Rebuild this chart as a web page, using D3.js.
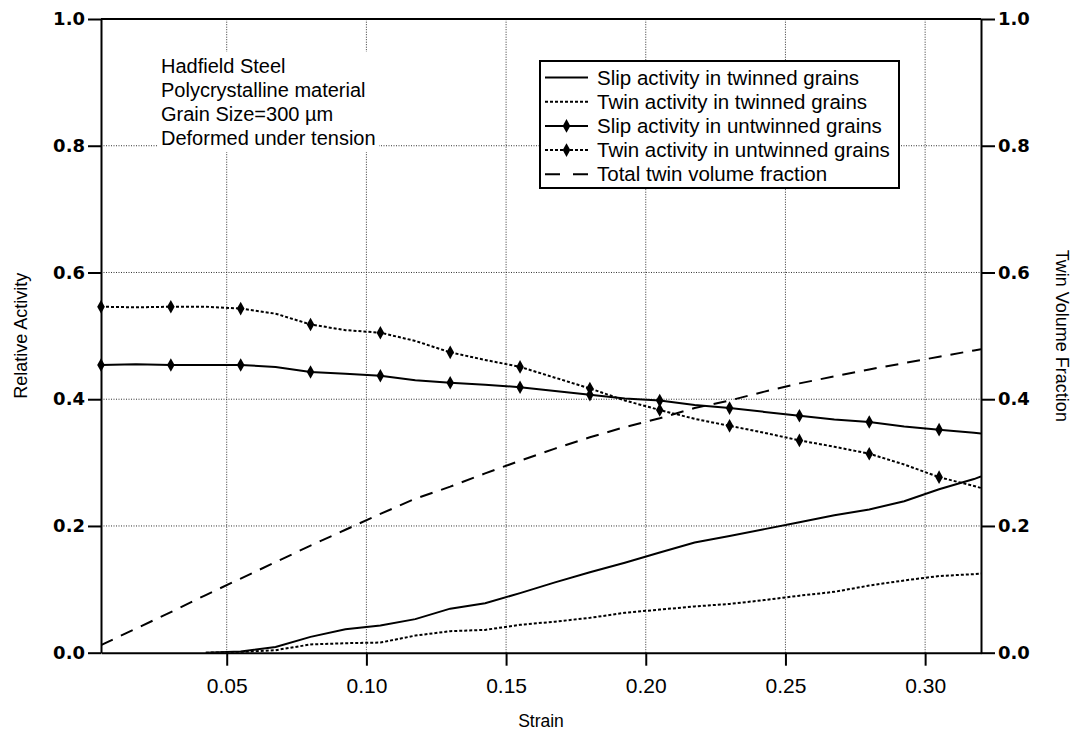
<!DOCTYPE html>
<html><head><meta charset="utf-8">
<script src="https://cdn.jsdelivr.net/npm/d3@7"></script>
<style>body{margin:0;background:#fff}svg{display:block}</style>
</head><body><svg id="c" width="1076" height="734"></svg>
<script>
const strain = [0.005,0.0175,0.03,0.0425,0.055,0.0675,0.08,0.0925,0.105,0.1175,0.13,0.1425,0.155,0.1675,0.18,0.1925,0.205,0.2175,0.23,0.2425,0.255,0.2675,0.28,0.2925,0.305,0.3175,0.32];
const slipUntwinned = [0.454,0.455,0.454,0.454,0.454,0.451,0.443,0.440,0.437,0.430,0.426,0.423,0.419,0.413,0.407,0.401,0.398,0.391,0.386,0.380,0.374,0.368,0.364,0.357,0.352,0.347,0.346];
const twinUntwinned = [0.546,0.545,0.546,0.546,0.543,0.535,0.518,0.509,0.505,0.492,0.474,0.462,0.451,0.434,0.417,0.398,0.383,0.369,0.358,0.347,0.335,0.325,0.314,0.297,0.277,0.263,0.260];
const slipTwinned = [null,null,null,0,0.002,0.009,0.025,0.037,0.043,0.053,0.0695,0.078,0.094,0.111,0.127,0.142,0.158,0.174,0.184,0.195,0.206,0.217,0.226,0.239,0.258,0.274,0.278];
const twinTwinned = [null,null,null,0,0.001,0.004,0.013,0.015,0.016,0.027,0.034,0.036,0.044,0.049,0.055,0.063,0.068,0.073,0.077,0.083,0.090,0.096,0.106,0.114,0.121,0.124,0.125];
const twinVolumeFraction = [0.012,0.038,0.064,0.091,0.117,0.143,0.169,0.194,0.219,0.243,0.262,0.283,0.303,0.322,0.340,0.356,0.370,0.386,0.398,0.412,0.425,0.436,0.447,0.457,0.467,0.477,0.479];
const markerStrain = [0.005,0.03,0.055,0.08,0.105,0.13,0.155,0.18,0.205,0.23,0.255,0.28,0.305];
const xTicks = [0.05,0.10,0.15,0.20,0.25,0.30];
const yTicks = [0.0,0.2,0.4,0.6,0.8,1.0];
const legendLabels = ["Slip activity in twinned grains","Twin activity in twinned grains","Slip activity in untwinned grains","Twin activity in untwinned grains","Total twin volume fraction"];
const annotation = ["Hadfield Steel","Polycrystalline material","Grain Size=300 \u00b5m","Deformed under tension"];

const svg = d3.select("#c");
const L = 101, R = 981, T = 19, B = 652.7;
const x = d3.scaleLinear().domain([0.005, 0.32]).range([L, R]);
const y = d3.scaleLinear().domain([0, 1]).range([B, T]);
const y2 = d3.scaleLinear().domain([0, 1]).range([B, T]);
const sans = "'Liberation Sans', Arial, Helvetica, sans-serif";

// grid
const grid = svg.append("g").attr("stroke", "#333").attr("stroke-width", 1).attr("stroke-dasharray", "1,1.5");
xTicks.forEach(t => grid.append("line").attr("x1", x(t)).attr("x2", x(t)).attr("y1", B).attr("y2", T));
yTicks.filter(t => t > 0 && t < 1).forEach(t => grid.append("line").attr("x1", L).attr("x2", R).attr("y1", y(t)).attr("y2", y(t)));

// series
const styles = [
  {vals: slipTwinned, dash: null, marker: false, legDash: null},
  {vals: twinTwinned, dash: "3,2", marker: false, legDash: "3,2"},
  {vals: slipUntwinned, dash: null, marker: true, legDash: null},
  {vals: twinUntwinned, dash: "3,2", marker: true, legDash: "3,2"},
  {vals: twinVolumeFraction, dash: "13,9", marker: false, legDash: "15,13", right: true}
];
svg.append("clipPath").attr("id", "clip").append("rect").attr("x", L).attr("y", T).attr("width", R - L).attr("height", B - T);
const plot = svg.append("g").attr("clip-path", "url(#clip)");
const diamond = "M0,-6.8L3.8,0L0,6.8L-3.8,0Z";

styles.forEach(s => {
  const ys = s.right ? y2 : y;
  const pts = strain.map((d, i) => [d, s.vals[i]]);
  const line = d3.line().defined(d => d[1] !== null).x(d => x(d[0])).y(d => ys(d[1]));
  plot.append("path").datum(pts).attr("d", line).attr("fill", "none").attr("stroke", "#000")
    .attr("stroke-width", 2).attr("stroke-dasharray", s.dash);
});
styles.filter(s => s.marker).forEach(s => {
  const mp = markerStrain.map(m => {
    const i = strain.findIndex(v => Math.abs(v - m) < 1e-9);
    return [m, s.vals[i]];
  });
  svg.append("g").selectAll("path").data(mp).join("path").attr("d", diamond)
    .attr("transform", d => `translate(${x(d[0])},${y(d[1])})`).attr("fill", "#000");
});

// axes
const fmtY = d3.format(".1f");
const ax = svg.append("g").attr("transform", `translate(${L},0)`)
  .call(d3.axisLeft(y).tickValues(yTicks).tickFormat(fmtY).tickSize(13).tickSizeOuter(0).tickPadding(3));
const axR = svg.append("g").attr("transform", `translate(${R},0)`)
  .call(d3.axisRight(y2).tickValues(yTicks).tickFormat(fmtY).tickSize(14).tickSizeOuter(0).tickPadding(3));
const axB = svg.append("g").attr("transform", `translate(0,${B})`)
  .call(d3.axisBottom(x).tickValues(xTicks).tickFormat(d3.format(".2f")).tickSize(13).tickSizeOuter(0).tickPadding(12));
[ax, axR, axB].forEach(a => {
  a.select(".domain").attr("stroke", "#000").attr("stroke-width", 2);
  a.selectAll(".tick line").attr("stroke", "#000").attr("stroke-width", 2);
});
[ax, axR].forEach(a => a.selectAll(".tick text").attr("font-family", "'DejaVu Sans', sans-serif")
  .attr("font-weight", "bold").attr("font-size", 18).attr("fill", "#000"));
axB.selectAll(".tick text").attr("font-family", sans).attr("font-size", 21).attr("fill", "#000");
// top frame
svg.append("line").attr("x1", L).attr("x2", R).attr("y1", y(1)).attr("y2", y(1)).attr("stroke", "#000").attr("stroke-width", 2);

// axis titles
svg.append("text").attr("x", (L + R) / 2).attr("y", 727).attr("text-anchor", "middle")
  .attr("font-family", sans).attr("font-size", 17.5).text("Strain");
svg.append("text").attr("transform", `translate(27,${(T + B) / 2}) rotate(-90)`).attr("text-anchor", "middle")
  .attr("font-family", sans).attr("font-size", 18).text("Relative Activity");
svg.append("text").attr("transform", `translate(1056,${(T + B) / 2}) rotate(90)`).attr("text-anchor", "middle")
  .attr("font-family", sans).attr("font-size", 18).text("Twin Volume Fraction");

// annotation
svg.append("rect").attr("x", 157).attr("y", 52).attr("width", 222).attr("height", 100).attr("fill", "#fff");
annotation.forEach((t, i) => svg.append("text").attr("x", 161).attr("y", 73 + i * 24)
  .attr("font-family", sans).attr("font-size", 20).attr("fill", "#000").text(t));

// legend
const lg = svg.append("g");
lg.append("rect").attr("x", 540).attr("y", 61).attr("width", 359).attr("height", 127)
  .attr("fill", "#fff").attr("stroke", "#000").attr("stroke-width", 2);
styles.forEach((s, i) => {
  const cy = 77.5 + i * 24.2;
  lg.append("line").attr("x1", 545).attr("x2", 588).attr("y1", cy).attr("y2", cy)
    .attr("stroke", "#000").attr("stroke-width", 2).attr("stroke-dasharray", s.legDash);
  if (s.marker) lg.append("path").attr("d", diamond).attr("transform", `translate(566.5,${cy})`).attr("fill", "#000");
  lg.append("text").attr("x", 597).attr("y", cy + 7).attr("font-family", sans).attr("font-size", 20.5)
    .attr("fill", "#000").text(legendLabels[i]);
});
</script></body></html>
